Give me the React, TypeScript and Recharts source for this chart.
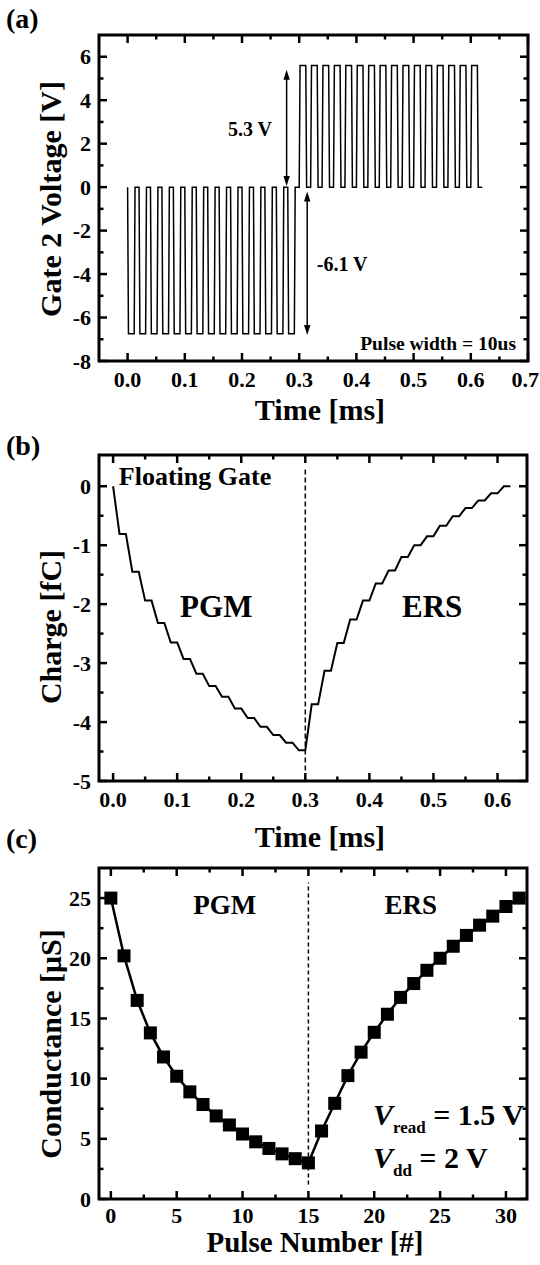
import React from 'react'
import { LineChart, Line, XAxis, YAxis, ReferenceArea, ReferenceLine, ReferenceDot } from 'recharts'

const FONT = '"Liberation Serif", "Times New Roman", Times, serif'
const INK = '#000'
const PAGE_W = 540

// pulse train timing [ms], shared by (a) and (b)
const PGM_PULSE_START = [0, 0.02, 0.04, 0.06, 0.08, 0.1, 0.12, 0.14, 0.16, 0.18, 0.2, 0.22, 0.24, 0.26, 0.28]
const ERS_PULSE_START = [0.3, 0.32, 0.34, 0.36, 0.38, 0.4, 0.42, 0.44, 0.46, 0.48, 0.5, 0.52, 0.54, 0.56, 0.58, 0.6]
const PULSE_WIDTH = 0.01
const PULSE_EDGE = 0.0015
const TRAIN_END = 0.62

// (a) gate 2 pulse levels [V]
const PGM_VOLTAGE = -6.75
const ERS_VOLTAGE = 5.6
const A_X_MAJOR = [0, 0.1, 0.2, 0.3, 0.4, 0.5, 0.6, 0.7]
const A_X_MINOR = [0.05, 0.15, 0.25, 0.35, 0.45, 0.55, 0.65]
const A_Y_MAJOR = [-8, -6, -4, -2, 0, 2, 4, 6]
const A_Y_MINOR = [-7, -5, -3, -1, 1, 3, 5]

// (b) floating gate charge [fC] reached at the end of each pulse
const PGM_CHARGE = [-0.81, -1.45, -1.94, -2.32, -2.65, -2.93, -3.18, -3.39, -3.57, -3.77, -3.93, -4.08, -4.22, -4.35, -4.48]
const ERS_CHARGE = [-3.7, -3.13, -2.66, -2.26, -1.94, -1.65, -1.43, -1.2, -1.0, -0.85, -0.67, -0.51, -0.37, -0.24, -0.12, 0]
const B_X_MAJOR = [0, 0.1, 0.2, 0.3, 0.4, 0.5, 0.6]
const B_X_MINOR = [0.05, 0.15, 0.25, 0.35, 0.45, 0.55]
const B_Y_MAJOR = [-5, -4, -3, -2, -1, 0]
const B_Y_MINOR = [-4.5, -3.5, -2.5, -1.5, -0.5]

// (c) conductance [uS] vs pulse number
const PULSE_NUMBER = [0, 1, 2, 3, 4, 5, 6, 7, 8, 9, 10, 11, 12, 13, 14, 15, 16, 17, 18, 19, 20, 21, 22, 23, 24, 25, 26, 27, 28, 29, 30, 31]
const CONDUCTANCE = [
  25.0, 20.2, 16.5, 13.8, 11.8, 10.2, 8.9, 7.85, 6.9, 6.15, 5.4, 4.75, 4.2, 3.75, 3.35, 3.0,
  5.65, 7.95, 10.25, 12.2, 13.85, 15.35, 16.75, 17.9, 19.0, 20.0, 21.0, 21.9, 22.75, 23.5, 24.3, 25.0,
]
const C_X_MAJOR = [0, 5, 10, 15, 20, 25, 30]
const C_X_MINOR = [2.5, 7.5, 12.5, 17.5, 22.5, 27.5]
const C_Y_MAJOR = [0, 5, 10, 15, 20, 25]
const C_Y_MINOR = [2.5, 7.5, 12.5, 17.5, 22.5]

// tables for the library
const gateWave: { t: number; v: number }[] = []
const addPulses = (starts: number[], level: number) =>
  starts.forEach((s) =>
    gateWave.push(
      { t: s, v: 0 },
      { t: s + PULSE_EDGE, v: level },
      { t: s + PULSE_EDGE + PULSE_WIDTH, v: level },
      { t: s + 2 * PULSE_EDGE + PULSE_WIDTH, v: 0 },
    ),
  )
addPulses(PGM_PULSE_START, PGM_VOLTAGE)
addPulses(ERS_PULSE_START, ERS_VOLTAGE)
gateWave.push({ t: TRAIN_END, v: 0 })

const chargeCurve: { t: number; q: number }[] = [{ t: 0, q: 0 }]
PGM_PULSE_START.forEach((s, i) =>
  chargeCurve.push({ t: s + PULSE_WIDTH, q: PGM_CHARGE[i] }, { t: s + 2 * PULSE_WIDTH, q: PGM_CHARGE[i] }),
)
ERS_PULSE_START.forEach((s, i) =>
  chargeCurve.push({ t: s + PULSE_WIDTH, q: ERS_CHARGE[i] }, { t: s + 2 * PULSE_WIDTH, q: ERS_CHARGE[i] }),
)

const conductance = PULSE_NUMBER.map((n, i) => ({ n, g: CONDUCTANCE[i] }))

const bold = { fontFamily: FONT, fontWeight: 700, fill: INK }

// inward ticks on both opposite sides, labels only on major ticks
function xTick(major: number[], span: number, fmt: (v: number) => string, labelDy = 26) {
  return (p: any) => {
    const v = p.payload.value
    const isMajor = major.includes(v)
    const len = isMajor ? 8 : 4.5
    // keep the last label inside the page
    const nearEdge = p.x + 14 > PAGE_W
    return (
      <g>
        <line x1={p.x} x2={p.x} y1={p.y} y2={p.y - len} stroke={INK} strokeWidth={2.5} />
        <line x1={p.x} x2={p.x} y1={p.y - span} y2={p.y - span + len} stroke={INK} strokeWidth={2.5} />
        {isMajor && (
          <text
            x={nearEdge ? PAGE_W - 1 : p.x}
            y={p.y + labelDy}
            textAnchor={nearEdge ? 'end' : 'middle'}
            fontSize={22}
            {...bold}
          >
            {fmt(v)}
          </text>
        )}
      </g>
    )
  }
}

function yTick(major: number[], span: number) {
  return (p: any) => {
    const v = p.payload.value
    const isMajor = major.includes(v)
    const len = isMajor ? 8 : 4.5
    return (
      <g>
        <line x1={p.x} x2={p.x + len} y1={p.y} y2={p.y} stroke={INK} strokeWidth={2.5} />
        <line x1={p.x + span} x2={p.x + span - len} y1={p.y} y2={p.y} stroke={INK} strokeWidth={2.5} />
        {isMajor && (
          <text x={p.x - 8} y={p.y + 7.5} textAnchor="end" fontSize={22} {...bold}>
            {String(v)}
          </text>
        )}
      </g>
    )
  }
}

const yTitle = (letter: string, letterBase: number, title: string, center: number) => ({
  content: () => (
    <g>
      <text x={6} y={letterBase} fontSize={28} {...bold}>
        {letter}
      </text>
      <text
        x={50}
        y={center}
        transform={`rotate(-90 50 ${center})`}
        textAnchor="middle"
        dominantBaseline="central"
        fontSize={30}
        {...bold}
      >
        {title}
      </text>
    </g>
  ),
})

const xTitle = (title: string, cx: number, base: number, size = 30) => ({
  content: () => (
    <text x={cx} y={base} textAnchor="middle" fontSize={size} {...bold}>
      {title}
    </text>
  ),
})

const note = (body: React.ReactNode, size: number, anchor: 'start' | 'middle' | 'end' = 'middle') => (p: any) => (
  <text x={p.cx} y={p.cy} textAnchor={anchor} fontSize={size} {...bold}>
    {body}
  </text>
)

const doubleArrow = (p: any) => {
  const top = Math.min(p.y1, p.y2)
  const bottom = Math.max(p.y1, p.y2)
  const x = p.x1
  return (
    <g>
      <line x1={x} x2={x} y1={top + 6} y2={bottom - 6} stroke={INK} strokeWidth={1.5} />
      <polygon points={`${x},${top} ${x - 3.2},${top + 10} ${x + 3.2},${top + 10}`} fill={INK} />
      <polygon points={`${x},${bottom} ${x - 3.2},${bottom - 10} ${x + 3.2},${bottom - 10}`} fill={INK} />
    </g>
  )
}

const square = (p: any) => <rect key={p.index} x={p.cx - 6.5} y={p.cy - 6.5} width={13} height={13} fill={INK} />

// (a): page top 0, plot 99..528 x 35..361
function GateVoltageChart() {
  return (
    <LineChart width={540} height={430} data={gateWave} margin={{ top: 35, right: 12, bottom: 0, left: 0 }}>
      <XAxis
        type="number"
        dataKey="t"
        domain={[-0.05, 0.7]}
        allowDataOverflow
        ticks={[...A_X_MAJOR, ...A_X_MINOR]}
        interval={0}
        height={69}
        axisLine={false}
        tickLine={false}
        tickSize={0}
        tickMargin={0}
        tick={xTick(A_X_MAJOR, 326, (v) => v.toFixed(1))}
        label={xTitle('Time [ms]', 320, 420)}
      />
      <YAxis
        type="number"
        domain={[-8, 7]}
        allowDataOverflow
        ticks={[...A_Y_MAJOR, ...A_Y_MINOR]}
        interval={0}
        width={99}
        axisLine={false}
        tickLine={false}
        tickSize={0}
        tickMargin={0}
        tick={yTick(A_Y_MAJOR, 429)}
        label={yTitle('(a)', 28, 'Gate 2 Voltage [V]', 199)}
      />
      <ReferenceArea x1={-0.05} x2={0.7} y1={-8} y2={7} fill="none" stroke={INK} strokeWidth={3} ifOverflow="visible" />
      <Line dataKey="v" type="linear" stroke={INK} strokeWidth={1.5} dot={false} activeDot={false} isAnimationActive={false} />
      <ReferenceLine segment={[{ x: 0.278, y: 0.05 }, { x: 0.278, y: 5.4 }]} shape={doubleArrow} />
      <ReferenceLine segment={[{ x: 0.314, y: -0.2 }, { x: 0.314, y: -6.8 }]} shape={doubleArrow} />
      <ReferenceDot x={0.214} y={2.35} r={0} shape={note('5.3 V', 20)} />
      <ReferenceDot x={0.375} y={-3.86} r={0} shape={note('-6.1 V', 20)} />
      <ReferenceDot x={0.679} y={-7.5} r={0} shape={note('Pulse width = 10us', 19.5, 'end')} />
    </LineChart>
  )
}

// (b): page top 430, plot 99..527 x 455..781
function ChargeChart() {
  return (
    <LineChart width={540} height={425} data={chargeCurve} margin={{ top: 25, right: 13, bottom: 0, left: 0 }}>
      <XAxis
        type="number"
        dataKey="t"
        domain={[-0.022, 0.646]}
        allowDataOverflow
        ticks={[...B_X_MAJOR, ...B_X_MINOR]}
        interval={0}
        height={74}
        axisLine={false}
        tickLine={false}
        tickSize={0}
        tickMargin={0}
        tick={xTick(B_X_MAJOR, 326, (v) => v.toFixed(1))}
        label={xTitle('Time [ms]', 320, 417)}
      />
      <YAxis
        type="number"
        domain={[-5, 0.53]}
        allowDataOverflow
        ticks={[...B_Y_MAJOR, ...B_Y_MINOR]}
        interval={0}
        width={99}
        axisLine={false}
        tickLine={false}
        tickSize={0}
        tickMargin={0}
        tick={yTick(B_Y_MAJOR, 428)}
        label={yTitle('(b)', 25, 'Charge [fC]', 197)}
      />
      <ReferenceArea x1={-0.022} x2={0.646} y1={-5} y2={0.53} fill="none" stroke={INK} strokeWidth={3} ifOverflow="visible" />
      <ReferenceLine
        segment={[{ x: 0.3, y: -4.82 }, { x: 0.3, y: 0.29 }]}
        stroke={INK}
        strokeWidth={1.5}
        strokeDasharray="5 3"
      />
      <Line dataKey="q" type="linear" stroke={INK} strokeWidth={2} dot={false} activeDot={false} isAnimationActive={false} />
      <ReferenceDot x={0.009} y={0.02} r={0} shape={note('Floating Gate', 26, 'start')} />
      <ReferenceDot x={0.161} y={-2.21} r={0} shape={note('PGM', 31)} />
      <ReferenceDot x={0.498} y={-2.21} r={0} shape={note('ERS', 31)} />
    </LineChart>
  )
}

// (c): page top 820, plot 99..527 x 868..1199
function ConductanceChart() {
  return (
    <LineChart width={540} height={445} data={conductance} margin={{ top: 48, right: 13, bottom: 0, left: 0 }}>
      <XAxis
        type="number"
        dataKey="n"
        domain={[-0.9, 31.6]}
        allowDataOverflow
        ticks={[...C_X_MAJOR, ...C_X_MINOR]}
        interval={0}
        height={66}
        axisLine={false}
        tickLine={false}
        tickSize={0}
        tickMargin={0}
        tick={xTick(C_X_MAJOR, 331, (v) => String(v), 24)}
        label={xTitle('Pulse Number [#]', 315, 432, 29)}
      />
      <YAxis
        type="number"
        domain={[0, 27.5]}
        allowDataOverflow
        ticks={[...C_Y_MAJOR, ...C_Y_MINOR]}
        interval={0}
        width={99}
        axisLine={false}
        tickLine={false}
        tickSize={0}
        tickMargin={0}
        tick={yTick(C_Y_MAJOR, 428)}
        label={yTitle('(c)', 28, 'Conductance [\u03bcS]', 224)}
      />
      <ReferenceArea x1={-0.9} x2={31.6} y1={0} y2={27.5} fill="none" stroke={INK} strokeWidth={3} ifOverflow="visible" />
      <ReferenceLine
        segment={[{ x: 15, y: 1.2 }, { x: 15, y: 26.3 }]}
        stroke={INK}
        strokeWidth={1.5}
        strokeDasharray="4 3"
      />
      <Line dataKey="g" type="linear" stroke={INK} strokeWidth={2.5} dot={square} activeDot={false} isAnimationActive={false} />
      <ReferenceDot x={8.64} y={23.68} r={0} shape={note('PGM', 27)} />
      <ReferenceDot x={22.77} y={23.68} r={0} shape={note('ERS', 27)} />
      <ReferenceDot
        x={19.9}
        y={6.15}
        r={0}
        shape={note(
          <>
            <tspan fontStyle="italic">V</tspan>
            <tspan fontSize={17} dy={8}>read</tspan>
            <tspan dy={-8}> = 1.5 V</tspan>
          </>,
          30,
          'start',
        )}
      />
      <ReferenceDot
        x={19.9}
        y={2.58}
        r={0}
        shape={note(
          <>
            <tspan fontStyle="italic">V</tspan>
            <tspan fontSize={17} dy={8}>dd</tspan>
            <tspan dy={-8}> = 2 V</tspan>
          </>,
          30,
          'start',
        )}
      />
    </LineChart>
  )
}

export default function App() {
  return (
    <div style={{ position: 'absolute', left: 0, top: 0, width: 540, height: 1265, background: '#fff', overflow: 'hidden' }}>
      <div style={{ position: 'absolute', left: 0, top: 0 }}>
        <GateVoltageChart />
      </div>
      <div style={{ position: 'absolute', left: 0, top: 430 }}>
        <ChargeChart />
      </div>
      <div style={{ position: 'absolute', left: 0, top: 820 }}>
        <ConductanceChart />
      </div>
    </div>
  )
}
